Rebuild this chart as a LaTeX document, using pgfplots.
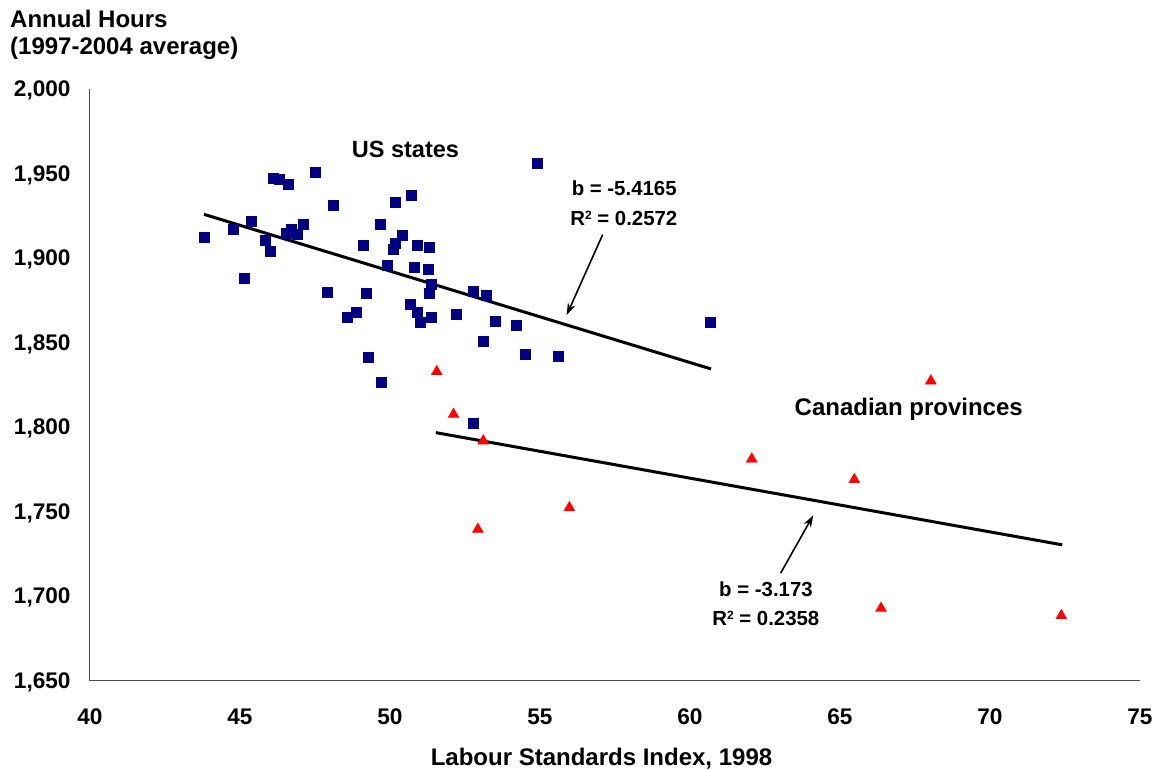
\documentclass[border=0pt]{standalone}
\usepackage{fontspec}
\setmainfont{Liberation Sans}
\usepackage{pgfplots}
\pgfplotsset{compat=1.18}
\usetikzlibrary{arrows.meta}
\definecolor{navyb}{RGB}{0,0,128}
\definecolor{redt}{RGB}{255,0,0}
\begin{document}
\begin{tikzpicture}
\begin{axis}[
  at={(0,0)}, anchor=south west,
  scale only axis, width=1050pt, height=591.4pt,
  xmin=40, xmax=75, ymin=1650, ymax=2000,
  xtick={40,45,...,75}, ytick={1650,1700,...,2000},
  axis x line*=bottom, axis y line*=left,
  axis line style={draw=black!70, line width=1pt},
  major tick length=0pt,
  tick label style={font=\fontsize{22.6}{26}\selectfont\bfseries},
  yticklabel style={anchor=base east, inner sep=0pt, xshift=-19.3pt, yshift=-7.4pt},
  xticklabel style={anchor=base, inner sep=0pt, yshift=-43.5pt},
  /pgf/number format/assume math mode=true,
  /pgf/number format/1000 sep={,},
  clip=false,
]
\addplot[only marks, mark=square*, mark size=5pt, mark options={fill=navyb, draw=navyb, line width=0.3pt}] coordinates {
(43.82,1912.2) (44.76,1917.3) (45.36,1921.9) (45.83,1910.8) (46.02,1904.5)
(46.09,1947.7) (46.31,1946.7) (46.59,1943.6) (46.70,1917.3) (46.53,1914.8)
(46.89,1914.4) (47.12,1919.9) (47.49,1951.2) (48.12,1931.7) (45.13,1888.2)
(47.92,1880.2) (49.20,1879.6) (49.12,1907.9) (49.67,1919.9) (49.89,1895.7)
(48.87,1868.4) (48.56,1864.9) (49.27,1841.2) (49.69,1826.8) (54.92,1956.0)
(50.16,1933.5) (50.72,1937.3) (50.39,1913.6) (50.17,1909.2) (50.12,1905.3)
(50.92,1908.0) (51.31,1906.3) (50.82,1895.0) (51.26,1893.3) (51.36,1884.6)
(51.29,1879.6) (52.76,1880.4) (53.22,1878.0) (50.66,1873.1) (50.92,1868.0)
(51.02,1862.1) (51.36,1864.9) (52.22,1867.2) (53.51,1862.7) (54.19,1860.5)
(53.09,1850.7) (54.49,1843.1) (55.59,1841.8) (52.76,1802.7) (60.66,1861.9)
};
\addplot[only marks, mark=triangle*, mark size=6.5pt, mark options={fill=redt, draw=redt, line width=0.2pt}] coordinates {
(51.56,1832.9) (52.12,1807.6) (53.11,1791.9) (52.93,1739.6) (55.98,1752.4)
(62.06,1781.2) (65.48,1769.0) (68.03,1827.4) (66.37,1692.8) (72.38,1688.5)
};
\addplot[black, line width=3pt] coordinates {(43.8,1926.0) (60.7,1834.5)};
\addplot[black, line width=3pt] coordinates {(51.53,1796.8) (72.41,1730.4)};
\draw[line width=1.6pt, -{Stealth[length=12pt, width=8pt]}] (axis cs:57.09,1914.0) -- (axis cs:55.89,1866.4);
\draw[line width=1.6pt, -{Stealth[length=12pt, width=8pt]}] (axis cs:63.02,1713.6) -- (axis cs:64.11,1747.9);
\end{axis}
\begin{scope}[every node/.style={inner sep=0pt}]
\node[anchor=base west, font=\fontsize{24}{28}\selectfont\bfseries] at (-80pt,653.4pt) {Annual Hours};
\node[anchor=base west, font=\fontsize{24}{28}\selectfont\bfseries] at (-80pt,626.2pt) {(1997-2004 average)};
\node[anchor=base, font=\fontsize{24}{28}\selectfont\bfseries] at (511.5pt,-84.9pt) {Labour Standards Index, 1998};
\node[anchor=center, font=\fontsize{23.5}{28}\selectfont\bfseries] at (315.5pt,531.7pt) {US states};
\node[anchor=base, font=\fontsize{24}{28}\selectfont\bfseries] at (818.7pt,264.7pt) {Canadian provinces};
\node[anchor=base, font=\fontsize{20.4}{24}\selectfont\bfseries] at (534.2pt,484.7pt) {b = -5.4165};
\node[anchor=base, font=\fontsize{20.4}{24}\selectfont\bfseries] at (533.8pt,454.7pt) {R\raisebox{6pt}{\fontsize{12}{12}\selectfont 2} = 0.2572};
\node[anchor=base, font=\fontsize{20.4}{24}\selectfont\bfseries] at (676pt,84pt) {b = -3.173};
\node[anchor=base, font=\fontsize{20.4}{24}\selectfont\bfseries] at (675.8pt,54.7pt) {R\raisebox{6pt}{\fontsize{12}{12}\selectfont 2} = 0.2358};
\end{scope}
\pgfresetboundingbox
\path[use as bounding box] (-90pt,-89.3pt) rectangle (1067pt,680.7pt);
\end{tikzpicture}
\end{document}
